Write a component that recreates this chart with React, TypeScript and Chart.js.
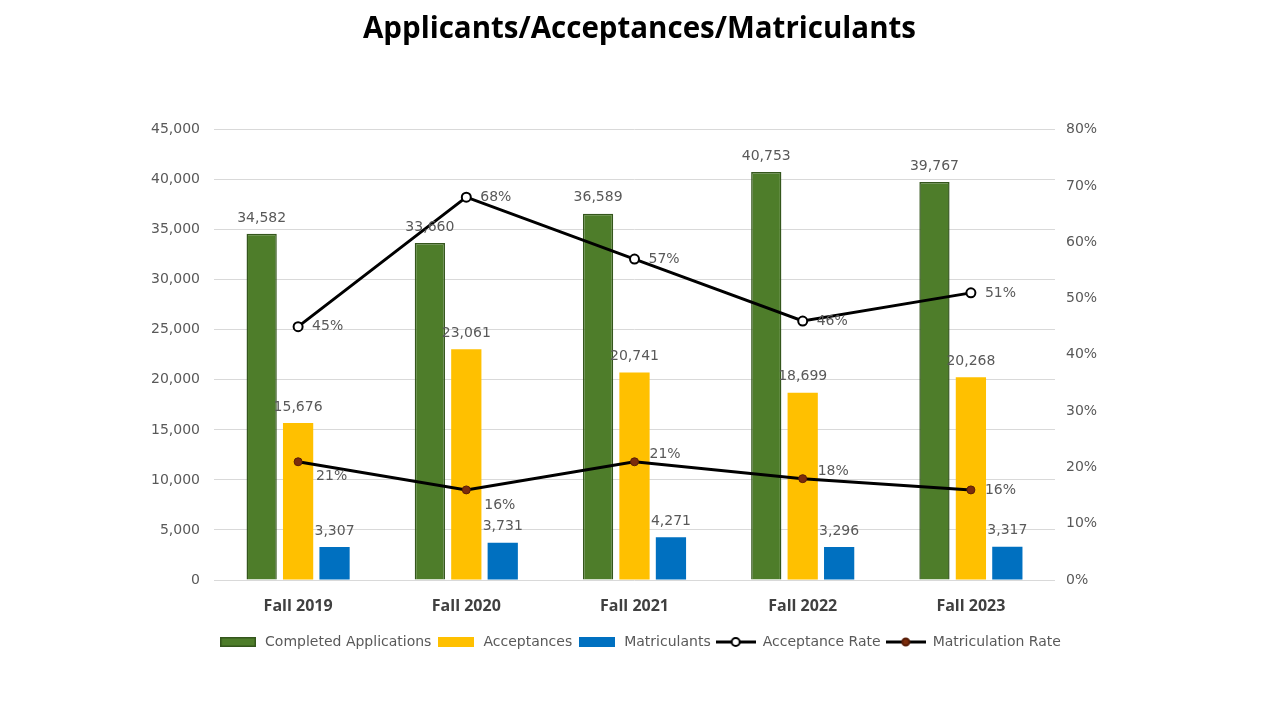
import React, { useEffect, useRef } from "react";
import { Chart, registerables } from "chart.js";

Chart.register(...registerables);

const categories = ["Fall 2019", "Fall 2020", "Fall 2021", "Fall 2022", "Fall 2023"];
const completedApplications = [34582, 33660, 36589, 40753, 39767];
const acceptances = [15676, 23061, 20741, 18699, 20268];
const matriculants = [3307, 3731, 4271, 3296, 3317];
const acceptanceRate = [45, 68, 57, 46, 51];
const matriculationRate = [21, 16, 21, 18, 16];
const leftTicksMax = 45000;
const rightTicksMax = 80;
const matricLabelPlacement = ["below", "below", "above", "above", "right"];

const FONT = '"DejaVu Sans", sans-serif';
const GREY = "#595959";
const GREEN = "#4E7D2A";
const GREEN_BORDER = "#34561C";
const YELLOW = "#FFC000";
const BLUE = "#0070C0";
const DOT_RED = "#7B2C0C";

function makeBox(color: string, border?: string) {
  const c = document.createElement("canvas");
  c.width = 36;
  c.height = 10;
  const g = c.getContext("2d")!;
  g.fillStyle = color;
  g.fillRect(0, 0, 36, 10);
  if (border) {
    g.strokeStyle = border;
    g.lineWidth = 1.5;
    g.strokeRect(0.75, 0.75, 34.5, 8.5);
  }
  return c;
}

function makeLine(fill: string, stroke: string, r: number) {
  const c = document.createElement("canvas");
  c.width = 40;
  c.height = 12;
  const g = c.getContext("2d")!;
  g.strokeStyle = "#000";
  g.lineWidth = 3;
  g.beginPath();
  g.moveTo(0, 6);
  g.lineTo(40, 6);
  g.stroke();
  g.beginPath();
  g.arc(20, 6, r, 0, Math.PI * 2);
  g.fillStyle = fill;
  g.fill();
  g.lineWidth = 2;
  g.strokeStyle = stroke;
  g.stroke();
  return c;
}

const valueLabels = {
  id: "valueLabels",
  afterDatasetsDraw(chart: any) {
    const ctx = chart.ctx;
    ctx.save();
    ctx.font = `14px ${FONT}`;
    ctx.fillStyle = GREY;
    chart.data.datasets.forEach((ds: any, di: number) => {
      const meta = chart.getDatasetMeta(di);
      meta.data.forEach((el: any, i: number) => {
        const v = ds.data[i];
        if (meta.type === "bar") {
          ctx.textAlign = "center";
          ctx.textBaseline = "bottom";
          ctx.fillText(v.toLocaleString("en-US"), el.x, el.y - 9);
        } else {
          ctx.textAlign = "left";
          ctx.textBaseline = "middle";
          let dx = 14;
          let dy = 0;
          if (ds.label === "Matriculation Rate") {
            const p = matricLabelPlacement[i];
            if (p === "below") {
              dx = 18;
              dy = 15;
            } else if (p === "above") {
              dx = 15;
              dy = -7;
            }
          }
          ctx.fillText(v + "%", el.x + dx, el.y + dy);
        }
      });
    });
    ctx.restore();
  },
};

export default function App() {
  const ref = useRef<HTMLCanvasElement | null>(null);

  useEffect(() => {
    document.body.style.margin = "0";
    const canvas = ref.current!;
    const legendImgs: any = {
      "Completed Applications": makeBox(GREEN, GREEN_BORDER),
      Acceptances: makeBox(YELLOW),
      Matriculants: makeBox(BLUE),
      "Acceptance Rate": makeLine("#ffffff", "#000000", 4),
      "Matriculation Rate": makeLine(DOT_RED, "#5a1e08", 3.5),
    };
    const chart = new Chart(canvas, {
      type: "bar",
      data: {
        labels: categories,
        datasets: [
          {
            type: "bar",
            label: "Completed Applications",
            data: completedApplications,
            backgroundColor: GREEN,
            borderColor: GREEN_BORDER,
            borderWidth: 1.5,
            yAxisID: "y",
            order: 1,
          },
          {
            type: "bar",
            label: "Acceptances",
            data: acceptances,
            backgroundColor: YELLOW,
            yAxisID: "y",
            order: 1,
          },
          {
            type: "bar",
            label: "Matriculants",
            data: matriculants,
            backgroundColor: BLUE,
            yAxisID: "y",
            order: 1,
          },
          {
            type: "line",
            label: "Acceptance Rate",
            data: acceptanceRate,
            borderColor: "#000000",
            borderWidth: 3,
            pointRadius: 4.5,
            pointBorderWidth: 2,
            pointBackgroundColor: "#ffffff",
            pointBorderColor: "#000000",
            yAxisID: "y1",
            order: 0,
          },
          {
            type: "line",
            label: "Matriculation Rate",
            data: matriculationRate,
            borderColor: "#000000",
            borderWidth: 3,
            pointRadius: 4,
            pointBorderWidth: 1,
            pointBackgroundColor: DOT_RED,
            pointBorderColor: "#5a1e08",
            yAxisID: "y1",
            order: 0,
          },
        ] as any,
      },
      options: {
        responsive: false,
        animation: false,
        datasets: {
          bar: { categoryPercentage: 0.65, barPercentage: 0.83 },
        } as any,
        layout: { padding: { top: 0, left: 0, right: 0, bottom: 61 } },
        plugins: {
          tooltip: { enabled: false },
          title: {
            display: true,
            text: "Applicants/Acceptances/Matriculants",
            color: "#000000",
            font: { family: '"Open Sans", sans-serif', size: 29.5, weight: "bold" },
            padding: { top: 12, bottom: 82.2 },
          },
          legend: {
            position: "bottom",
            labels: {
              usePointStyle: true,
              pointStyleWidth: 40,
              padding: 5,
              color: GREY,
              font: { family: FONT, size: 14 },
              sort: (a: any, b: any) => a.datasetIndex - b.datasetIndex,
              generateLabels: (ch: any) =>
                ch.data.datasets.map((ds: any, i: number) => ({
                  text: ds.label,
                  datasetIndex: i,
                  pointStyle: legendImgs[ds.label],
                  fillStyle: "transparent",
                  strokeStyle: "transparent",
                  lineWidth: 0,
                  fontColor: GREY,
                  hidden: false,
                })),
            },
          },
        },
        scales: {
          x: {
            grid: { display: false, drawTicks: false },
            border: { display: false },
            ticks: {
              padding: 17,
              color: "#404040",
              font: { family: '"Open Sans", sans-serif', size: 16, weight: "bold" },
            },
            afterFit: (s: any) => {
              s.height = 50;
            },
          },
          y: {
            position: "left",
            min: 0,
            max: leftTicksMax,
            grid: { color: "#D9D9D9", drawTicks: false, lineWidth: 1 },
            border: { display: false },
            ticks: {
              stepSize: 5000,
              padding: 14,
              color: GREY,
              font: { family: FONT, size: 14 },
              callback: (v: any) => Number(v).toLocaleString("en-US"),
            },
            afterFit: (s: any) => {
              s.width = 214;
            },
          },
          y1: {
            position: "right",
            min: 0,
            max: rightTicksMax,
            grid: { display: false, drawTicks: false },
            border: { display: false },
            ticks: {
              stepSize: 10,
              padding: 11,
              color: GREY,
              font: { family: FONT, size: 14 },
              callback: (v: any) => v + "%",
            },
            afterFit: (s: any) => {
              s.width = 224;
            },
          },
        },
      } as any,
      plugins: [valueLabels],
    });
    return () => chart.destroy();
  }, []);

  return (
    <div style={{ position: "fixed", left: 0, top: 0, width: 1279, height: 720, background: "#ffffff" }}>
      <canvas ref={ref} width={1279} height={720} style={{ display: "block" }} />
    </div>
  );
}
